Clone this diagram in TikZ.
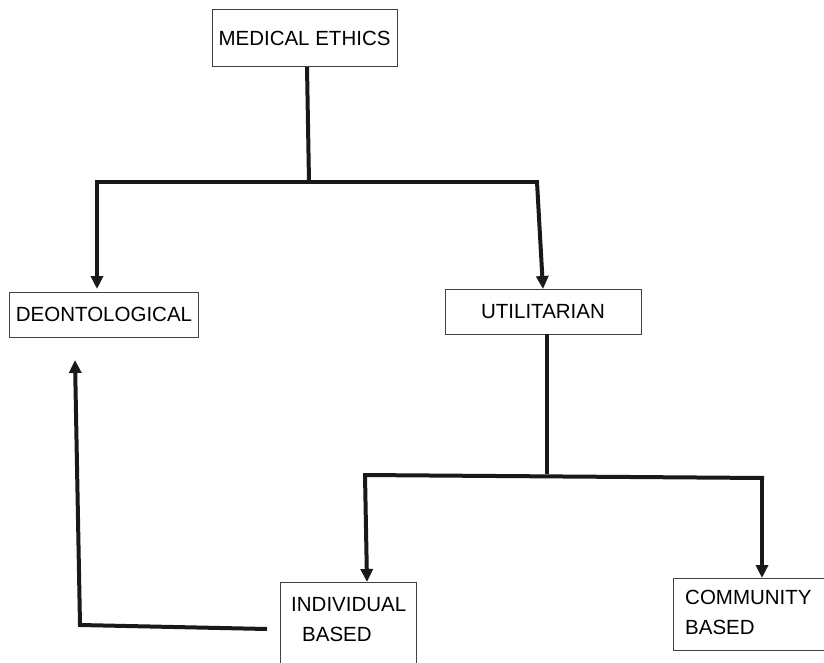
\documentclass[tikz,border=0pt]{standalone}
\usepackage{fontspec}
\setmainfont{Liberation Sans}
\usetikzlibrary{arrows.meta}
\begin{document}
\begin{tikzpicture}[x=1pt,y=-1pt,
  box/.style={draw=black!75,line width=0.9pt,rectangle,inner sep=0pt,
    font=\fontsize{20.5}{30}\selectfont},
  txt/.style={inner sep=0pt,align=left,anchor=north west,
    font=\fontsize{20.5}{30}\selectfont},
  conn/.style={line width=4pt,draw=black!90},
  arr/.style={conn,-{Triangle[length=13pt,width=12pt]}}]
\useasboundingbox (0,0) rectangle (824,663);
\clip (0,0) rectangle (824,663);
% boxes
\node[box,minimum width=185pt,minimum height=57pt] (med) at (304.5,38) {MEDICAL ETHICS};
\node[box,minimum width=189pt,minimum height=45pt] (deon) at (104,314.5) {DEONTOLOGICAL};
\node[box,minimum width=196pt,minimum height=45pt] (util) at (543,311.5) {UTILITARIAN};
\node[box,minimum width=136pt,minimum height=120pt] (indiv) at (348,642) {};
\node[txt] (indivt) at (291,597) {INDIVIDUAL\\\hspace*{11pt}BASED};
\node[box,minimum width=152pt,minimum height=72pt] (comm) at (749,614) {};
\node[txt] (commt) at (685,590) {COMMUNITY\\BASED};
% junction coordinates
\coordinate (ja) at (307,67);
\coordinate (jb) at (309,182);
\coordinate (jl) at (97,182);
\coordinate (jr) at (537,182);
\coordinate (tl) at (97,289);
\coordinate (tr) at (543,289);
\coordinate (ua) at (547,334);
\coordinate (ub) at (547,474);
\coordinate (kl) at (365,475);
\coordinate (kr) at (762,478);
\coordinate (til) at (367,582);
\coordinate (tcr) at (762,578);
\coordinate (ia) at (267,629);
\coordinate (ib) at (80,625);
\coordinate (dt) at (75,360);
% connectors
\draw[conn] (ja) -- (jb);
\draw[conn] ([xshift=-2pt]jl) -- ([xshift=2pt]jr);
\draw[arr] (jl) -- (tl);
\draw[arr] (jr) -- (tr);
\draw[conn] (ua) -- (ub);
\draw[conn] ([xshift=-2pt]kl) -- ([xshift=2pt]kr);
\draw[arr] (kl) -- (til);
\draw[arr] (kr) -- (tcr);
\draw[arr] (ia) -- (ib) -- (dt);
\end{tikzpicture}
\end{document}
